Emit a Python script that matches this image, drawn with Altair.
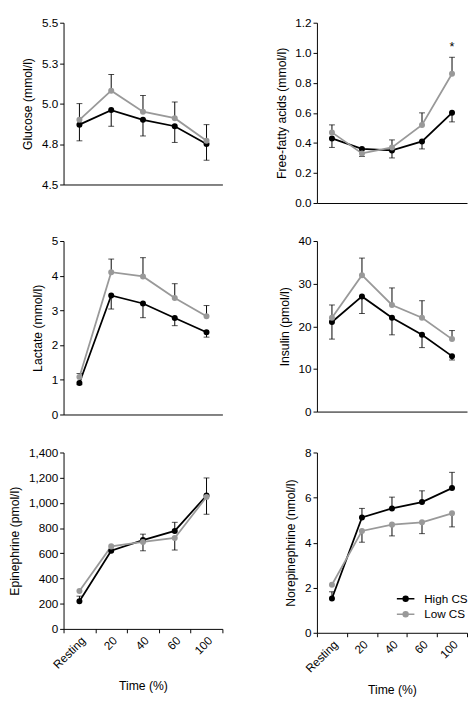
import altair as alt
import pandas as pd

times = ["Resting", "20", "40", "60", "100"]
series = ["High CS", "Low CS"]

# Glucose (mmol/l)
glucose_high = [4.87, 4.96, 4.90, 4.86, 4.75]
glucose_low = [4.90, 5.08, 4.95, 4.91, 4.77]
glucose_high_se = [0.10, 0.10, 0.10, 0.10, 0.10]
glucose_low_se = [0.10, 0.10, 0.10, 0.10, 0.10]
glucose_high_dir = [-1, -1, -1, -1, -1]
glucose_low_dir = [1, 1, 1, 1, 1]

# Free-fatty acids (mmol/l)
ffa_high = [0.43, 0.36, 0.35, 0.41, 0.60]
ffa_low = [0.47, 0.33, 0.37, 0.52, 0.86]
ffa_high_se = [0.06, 0.0, 0.05, 0.05, 0.06]
ffa_low_se = [0.05, 0.02, 0.05, 0.08, 0.11]
ffa_high_dir = [-1, 1, -1, -1, -1]
ffa_low_dir = [1, -1, 1, 1, 1]
ffa_star_time = ["100"]
ffa_star_value = [1.04]
ffa_star_text = ["*"]

# Lactate (mmol/l)
lactate_high = [0.91, 3.43, 3.20, 2.78, 2.37]
lactate_low = [1.08, 4.10, 3.98, 3.36, 2.83]
lactate_high_se = [0.05, 0.39, 0.41, 0.22, 0.14]
lactate_low_se = [0.10, 0.38, 0.54, 0.41, 0.31]
lactate_high_dir = [-1, -1, -1, -1, -1]
lactate_low_dir = [1, 1, 1, 1, 1]

# Insulin (pmol/l)
insulin_high = [21, 27, 22, 18, 13]
insulin_low = [22, 32, 25, 22, 17]
insulin_high_se = [4, 4, 4, 3, 0.9]
insulin_low_se = [3, 4, 4, 4, 2]
insulin_high_dir = [-1, -1, -1, -1, -1]
insulin_low_dir = [1, 1, 1, 1, 1]

# Epinephrine (pmol/l)
epi_high = [220, 620, 705, 778, 1058]
epi_low = [300, 655, 690, 722, 1047]
epi_high_se = [40, 0, 47, 68, 140]
epi_low_se = [0, 0, 70, 96, 137]
epi_high_dir = [1, 1, 1, 1, 1]
epi_low_dir = [-1, -1, -1, -1, -1]

# Norepinephrine (nmol/l)
nor_high = [1.52, 5.12, 5.52, 5.80, 6.42]
nor_low = [2.13, 4.52, 4.80, 4.90, 5.30]
nor_high_se = [0.3, 0.4, 0.5, 0.5, 0.7]
nor_low_se = [0.0, 0.5, 0.5, 0.5, 0.6]
nor_high_dir = [1, 1, 1, 1, 1]
nor_low_dir = [-1, -1, -1, -1, -1]

FONT = "Liberation Sans"
BLACK = "#000000"
GRAY = "#999999"
# legend glyph: short line with a (ring-filled) dot in the middle
LEGEND_PATH = ("M-1.5,0L1.5,0"
               "M0.42,0A0.42,0.42,0,1,1,-0.42,0A0.42,0.42,0,1,1,0.42,0"
               "M0.2,0A0.2,0.2,0,1,1,-0.2,0A0.2,0.2,0,1,1,0.2,0")


def build_df(high, low, high_se, low_se, high_dir, low_dir):
    rows = []
    for i, t in enumerate(times):
        for s, vals, se, d in (("High CS", high, high_se, high_dir),
                               ("Low CS", low, low_se, low_dir)):
            v = vals[i]
            rows.append({"time": t, "series": s, "value": v,
                         "end": v + d[i] * se[i], "se": se[i]})
    return pd.DataFrame(rows)


def panel(df, title, domain, ticks, fmt, w, h, bottom=False, legend=False, star=None):
    if bottom:
        x_axis = alt.Axis(title="Time (%)", labelAngle=-45, labelAlign="right",
                          labelBaseline="top", tickBand="extent", tickSize=4,
                          labelPadding=2, titlePadding=10)
    else:
        x_axis = alt.Axis(title=None, labels=False, ticks=False, domain=True)
    x = alt.X("time:N", sort=times,
              scale=alt.Scale(type="band", paddingInner=0, paddingOuter=0),
              axis=x_axis)
    y_scale = alt.Scale(domain=domain, nice=False, zero=False)
    y_axis = alt.Axis(title=title, values=ticks, format=fmt, tickSize=4,
                      labelPadding=2, titlePadding=7)
    col_scale = alt.Scale(domain=series, range=[BLACK, GRAY])
    if legend:
        leg = alt.Legend(orient="none", legendX=84, legendY=143, title=None,
                         symbolType=LEGEND_PATH, symbolSize=144,
                         symbolStrokeWidth=1.5, labelFontSize=12, labelFont=FONT,
                         labelColor=BLACK, labelOffset=12, rowPadding=3)
    else:
        leg = None

    base = alt.Chart(df)
    errs = base.transform_filter("datum.se > 0")
    rules = errs.mark_rule(color=BLACK, strokeWidth=1).encode(
        x=x,
        y=alt.Y("value:Q", scale=y_scale, axis=y_axis),
        y2="end:Q",
    )
    caps = errs.mark_tick(color=BLACK, thickness=1, size=6).encode(
        x=x,
        y=alt.Y("end:Q", scale=y_scale, axis=y_axis),
    )
    line = base.mark_line(strokeWidth=1.8).encode(
        x=x,
        y=alt.Y("value:Q", scale=y_scale, axis=y_axis),
        color=alt.Color("series:N", scale=col_scale, legend=leg),
    )
    pts = base.mark_point(filled=True, size=38, opacity=1).encode(
        x=x,
        y=alt.Y("value:Q", scale=y_scale, axis=y_axis),
        fill=alt.Fill("series:N", scale=col_scale, legend=None),
    )
    layers = [rules, caps, line, pts]
    if star is not None:
        sdf = pd.DataFrame({"time": star[0], "value": star[1], "label": star[2]})
        layers.append(
            alt.Chart(sdf).mark_text(fontSize=13, font=FONT, color=BLACK,
                                     baseline="middle").encode(
                x=x,
                y=alt.Y("value:Q", scale=y_scale, axis=y_axis),
                text="label:N",
            )
        )
    return alt.layer(*layers).properties(width=w, height=h)


glucose = panel(build_df(glucose_high, glucose_low, glucose_high_se, glucose_low_se,
                         glucose_high_dir, glucose_low_dir),
                "Glucose (mmol/l)", [4.5, 5.5], [4.5, 4.75, 5.0, 5.25, 5.5], ".1f",
                163, 166)
ffa = panel(build_df(ffa_high, ffa_low, ffa_high_se, ffa_low_se,
                     ffa_high_dir, ffa_low_dir),
            "Free-fatty acids (mmol/l)", [0, 1.2], [0, 0.2, 0.4, 0.6, 0.8, 1.0, 1.2],
            ".1f", 154, 185,
            star=(ffa_star_time, ffa_star_value, ffa_star_text))
lactate = panel(build_df(lactate_high, lactate_low, lactate_high_se, lactate_low_se,
                         lactate_high_dir, lactate_low_dir),
                "Lactate (mmol/l)", [0, 5], [0, 1, 2, 3, 4, 5], "d", 163, 178)
insulin = panel(build_df(insulin_high, insulin_low, insulin_high_se, insulin_low_se,
                         insulin_high_dir, insulin_low_dir),
                "Insulin (pmol/l)", [0, 40], [0, 10, 20, 30, 40], "d", 154, 175)
epi = panel(build_df(epi_high, epi_low, epi_high_se, epi_low_se,
                     epi_high_dir, epi_low_dir),
            "Epinephrine (pmol/l)", [0, 1400],
            [0, 200, 400, 600, 800, 1000, 1200, 1400], ",d", 163, 181, bottom=True)
nor = panel(build_df(nor_high, nor_low, nor_high_se, nor_low_se,
                     nor_high_dir, nor_low_dir),
            "Norepinephrine (nmol/l)", [0, 8], [0, 2, 4, 6, 8], "d", 154, 185,
            bottom=True, legend=True)

chart = alt.concat(
    glucose, ffa, lactate, insulin, epi, nor,
    columns=2, spacing={"row": 27, "column": 53}, align="each",
).resolve_scale(
    fill="independent", color="independent",
    x="independent", y="independent"
).resolve_legend(
    fill="independent", color="independent"
).configure(
    background="white", padding=0
).configure_view(
    stroke=None
).configure_axis(
    grid=False,
    labelFont=FONT, titleFont=FONT,
    labelFontSize=12, titleFontSize=12.5, titleFontWeight="normal",
    labelColor=BLACK, titleColor=BLACK,
    domainColor=BLACK, tickColor=BLACK, domainWidth=1, tickWidth=1,
)

chart.save("out.html", embed_options={"renderer": "svg", "actions": False})
